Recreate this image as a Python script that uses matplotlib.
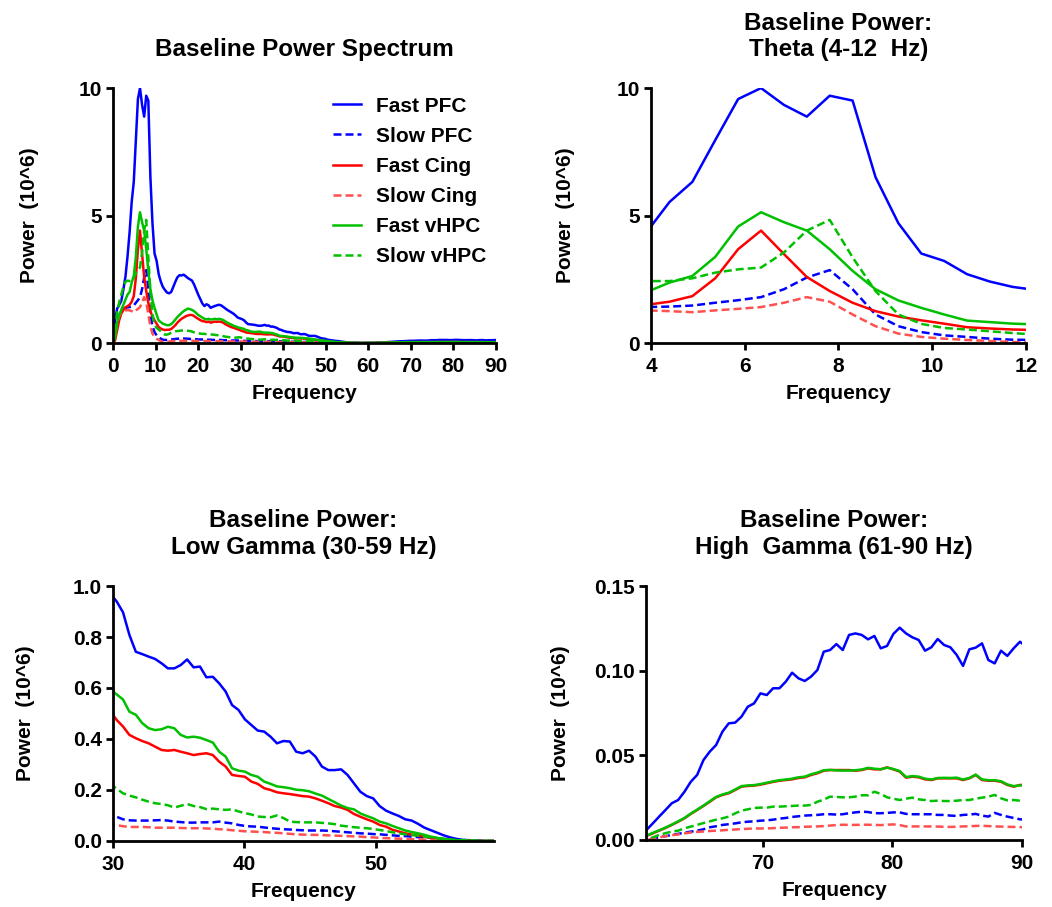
import numpy as np
import matplotlib
matplotlib.use("Agg")
import matplotlib.pyplot as plt
from matplotlib.ticker import FormatStrFormatter

plt.rcParams['font.family'] = ['Liberation Sans', 'DejaVu Sans']
plt.rcParams['font.weight'] = 'bold'

# FFT bin width (Hz); spectra below are one value per bin, from 0 Hz up to ~90 Hz
BIN_HZ = 0.48828

# Power (10^6) per bin
fast_pfc = [
    0.0, 0.9, 1.35, 1.5, 1.65, 2.1, 2.6, 3.4, 4.35, 5.53,
    6.32, 7.96, 9.57, 10.0, 9.34, 8.88, 9.70, 9.51, 6.51, 4.70,
    3.51, 3.22, 2.70, 2.41, 2.20, 2.08, 1.98, 1.95, 2.0, 2.2,
    2.4, 2.58, 2.66, 2.65, 2.68, 2.62, 2.55, 2.5, 2.45, 2.3,
    2.1, 1.9, 1.72, 1.55, 1.45, 1.52, 1.48, 1.38, 1.42, 1.45,
    1.48, 1.5, 1.48, 1.42, 1.36, 1.3, 1.25, 1.2, 1.15, 1.08,
    1.0, 0.97, 0.94, 0.897, 0.808, 0.742, 0.733, 0.723, 0.714, 0.697,
    0.677, 0.677, 0.69, 0.712, 0.681, 0.684, 0.642, 0.644, 0.618, 0.586,
    0.533, 0.514, 0.477, 0.455, 0.433, 0.429, 0.409, 0.383, 0.392, 0.39,
    0.35, 0.344, 0.354, 0.331, 0.292, 0.278, 0.278, 0.281, 0.259, 0.226,
    0.193, 0.176, 0.167, 0.137, 0.119, 0.108, 0.098, 0.085, 0.08, 0.067,
    0.052, 0.042, 0.032, 0.022, 0.014, 0.008, 0.004, 0.002, 0.001, 0.0,
    0.0, 0.0, 0.0, 0.001, 0.003, 0.0059, 0.0098, 0.0138, 0.0177, 0.0217,
    0.0236, 0.0285, 0.0344, 0.0384, 0.0472, 0.0522, 0.0561, 0.064, 0.0689, 0.0693,
    0.0728, 0.0787, 0.0807, 0.0866, 0.0856, 0.0896, 0.0896, 0.0935, 0.0988, 0.0955,
    0.0939, 0.0965, 0.1004, 0.1112, 0.1122, 0.1157, 0.1122, 0.1211, 0.122, 0.1211,
    0.1185, 0.1205, 0.1132, 0.1146, 0.1217, 0.1254, 0.122, 0.1197, 0.1181, 0.1118,
    0.1138, 0.1187, 0.1152, 0.1138, 0.1093, 0.1028, 0.1126, 0.1136, 0.1161, 0.1063,
    0.1043, 0.1118, 0.1087, 0.1132, 0.1171, 0.114,
]
slow_pfc = [
    0.0, 0.3, 0.8, 1.1, 1.25, 1.33, 1.38, 1.4, 1.41, 1.43,
    1.47, 1.58, 1.68, 1.80, 2.11, 2.57, 2.86, 2.11, 1.12, 0.66,
    0.43, 0.30, 0.24, 0.17, 0.13, 0.12, 0.12, 0.13, 0.14, 0.15,
    0.16, 0.17, 0.17, 0.18, 0.18, 0.17, 0.17, 0.16, 0.16, 0.15,
    0.15, 0.14, 0.14, 0.14, 0.13, 0.13, 0.13, 0.13, 0.12, 0.12,
    0.12, 0.12, 0.12, 0.11, 0.11, 0.11, 0.11, 0.1, 0.1, 0.1,
    0.1, 0.1, 0.095, 0.085, 0.081, 0.08, 0.08, 0.08, 0.081, 0.082,
    0.08, 0.076, 0.074, 0.072, 0.072, 0.073, 0.073, 0.073, 0.076, 0.072,
    0.069, 0.063, 0.059, 0.057, 0.056, 0.053, 0.05, 0.048, 0.046, 0.045,
    0.043, 0.042, 0.041, 0.041, 0.041, 0.04, 0.038, 0.036, 0.034, 0.032,
    0.03, 0.029, 0.027, 0.026, 0.024, 0.022, 0.02, 0.019, 0.017, 0.015,
    0.014, 0.012, 0.01, 0.008, 0.007, 0.005, 0.004, 0.003, 0.002, 0.001,
    0.0, 0.0, 0.0, 0.0, 0.0, 0.0004, 0.0008, 0.0016, 0.0022, 0.003,
    0.0036, 0.0043, 0.0049, 0.0055, 0.0063, 0.0075, 0.0081, 0.0089, 0.0093, 0.0098,
    0.0104, 0.0108, 0.011, 0.0114, 0.0116, 0.012, 0.0126, 0.013, 0.0136, 0.014,
    0.0144, 0.0146, 0.0148, 0.0152, 0.0152, 0.015, 0.0152, 0.0158, 0.0163, 0.0167,
    0.0165, 0.0158, 0.0158, 0.016, 0.0163, 0.0163, 0.0154, 0.0152, 0.0152, 0.0152,
    0.0152, 0.0148, 0.0148, 0.0144, 0.0142, 0.0148, 0.015, 0.0154, 0.0144, 0.0138,
    0.016, 0.0148, 0.0138, 0.013, 0.0122, 0.012,
]
fast_cing = [
    0.0, 0.1, 0.5, 0.9, 1.15, 1.3, 1.4, 1.45, 1.5, 1.62,
    1.84, 2.54, 3.68, 4.41, 3.49, 2.59, 2.04, 1.58, 1.25, 1.04,
    0.89, 0.76, 0.62, 0.57, 0.53, 0.51, 0.52, 0.52, 0.55, 0.62,
    0.7, 0.8, 0.88, 0.95, 1.0, 1.05, 1.08, 1.1, 1.1, 1.06,
    1.0, 0.95, 0.9, 0.86, 0.85, 0.82, 0.84, 0.8, 0.82, 0.84,
    0.83, 0.84, 0.83, 0.8, 0.74, 0.7, 0.66, 0.62, 0.6, 0.57,
    0.54, 0.51, 0.475, 0.449, 0.416, 0.403, 0.392, 0.383, 0.37, 0.357,
    0.354, 0.357, 0.35, 0.344, 0.337, 0.341, 0.344, 0.337, 0.311, 0.292,
    0.259, 0.255, 0.252, 0.233, 0.224, 0.207, 0.2, 0.191, 0.187, 0.184,
    0.18, 0.176, 0.174, 0.167, 0.158, 0.148, 0.137, 0.131, 0.122, 0.106,
    0.095, 0.085, 0.076, 0.063, 0.056, 0.044, 0.037, 0.03, 0.025, 0.021,
    0.017, 0.012, 0.008, 0.005, 0.003, 0.002, 0.001, 0.0, 0.0, 0.0,
    0.0, 0.0, 0.0, 0.0, 0.001, 0.0024, 0.0039, 0.0055, 0.0071, 0.0089,
    0.0108, 0.0128, 0.0154, 0.0177, 0.0201, 0.0226, 0.0252, 0.0266, 0.0276, 0.0295,
    0.0315, 0.0319, 0.0321, 0.0327, 0.0335, 0.0343, 0.035, 0.0354, 0.0358, 0.0366,
    0.037, 0.0384, 0.0394, 0.0409, 0.0413, 0.0413, 0.0413, 0.0413, 0.0409, 0.0413,
    0.0423, 0.0417, 0.0417, 0.0429, 0.0417, 0.0404, 0.0368, 0.0374, 0.037, 0.0358,
    0.0354, 0.0364, 0.0364, 0.0364, 0.0364, 0.0354, 0.0364, 0.0384, 0.0354, 0.035,
    0.035, 0.0344, 0.0325, 0.0315, 0.0325, 0.0325,
]
slow_cing = [
    0.0, 0.3, 0.8, 1.05, 1.2, 1.25, 1.28, 1.29, 1.28, 1.25,
    1.21, 1.28, 1.34, 1.41, 1.58, 1.80, 1.62, 1.12, 0.66, 0.37,
    0.24, 0.17, 0.12, 0.08, 0.04, 0.02, 0.04, 0.06, 0.07, 0.08,
    0.085, 0.09, 0.09, 0.09, 0.09, 0.09, 0.088, 0.086, 0.085, 0.083,
    0.082, 0.08, 0.079, 0.078, 0.077, 0.076, 0.075, 0.074, 0.073, 0.072,
    0.071, 0.07, 0.07, 0.069, 0.068, 0.068, 0.067, 0.067, 0.066, 0.066,
    0.065, 0.065, 0.062, 0.058, 0.055, 0.055, 0.055, 0.054, 0.052, 0.052,
    0.052, 0.052, 0.051, 0.05, 0.05, 0.05, 0.049, 0.048, 0.046, 0.045,
    0.042, 0.04, 0.038, 0.037, 0.036, 0.035, 0.033, 0.032, 0.03, 0.028,
    0.026, 0.025, 0.024, 0.024, 0.023, 0.022, 0.021, 0.02, 0.019, 0.018,
    0.017, 0.015, 0.014, 0.012, 0.011, 0.01, 0.009, 0.008, 0.007, 0.006,
    0.005, 0.004, 0.003, 0.002, 0.002, 0.001, 0.001, 0.0, 0.0, 0.0,
    0.0, 0.0, 0.0, 0.0, 0.0, 0.0, 0.0008, 0.0016, 0.0022, 0.0028,
    0.0033, 0.0039, 0.0044, 0.0048, 0.005, 0.0053, 0.0055, 0.0057, 0.006, 0.0062,
    0.0064, 0.0066, 0.0068, 0.0068, 0.0068, 0.007, 0.0072, 0.0073, 0.0075, 0.0076,
    0.0078, 0.0079, 0.008, 0.0082, 0.0085, 0.0088, 0.009, 0.0089, 0.0089, 0.009,
    0.009, 0.0089, 0.0088, 0.009, 0.0092, 0.0088, 0.008, 0.008, 0.008, 0.008,
    0.008, 0.0079, 0.0078, 0.0077, 0.0078, 0.008, 0.0081, 0.0083, 0.0084, 0.0082,
    0.008, 0.0079, 0.0078, 0.0077, 0.0076, 0.0075,
]
fast_vhpc = [
    0.0, 0.2, 0.8, 1.1, 1.3, 1.5, 1.7, 1.9, 2.0, 2.37,
    2.63, 3.38, 4.57, 5.13, 4.74, 4.41, 3.68, 2.83, 2.11, 1.67,
    1.38, 1.12, 0.88, 0.82, 0.76, 0.73, 0.7, 0.7, 0.74, 0.82,
    0.92, 1.02, 1.1, 1.18, 1.25, 1.3, 1.35, 1.33, 1.3, 1.25,
    1.18, 1.1, 1.05, 1.0, 0.95, 0.93, 0.95, 0.92, 0.93, 0.95,
    0.93, 0.95, 0.93, 0.9, 0.85, 0.8, 0.76, 0.72, 0.68, 0.65,
    0.62, 0.595, 0.575, 0.555, 0.507, 0.495, 0.462, 0.442, 0.435, 0.438,
    0.448, 0.442, 0.416, 0.406, 0.409, 0.405, 0.396, 0.386, 0.35, 0.331,
    0.285, 0.276, 0.272, 0.259, 0.252, 0.233, 0.224, 0.214, 0.211, 0.207,
    0.201, 0.199, 0.195, 0.186, 0.178, 0.165, 0.152, 0.139, 0.129, 0.124,
    0.108, 0.098, 0.089, 0.076, 0.069, 0.059, 0.05, 0.041, 0.035, 0.03,
    0.024, 0.017, 0.012, 0.008, 0.005, 0.003, 0.002, 0.001, 0.0, 0.0,
    0.0, 0.0, 0.0, 0.0, 0.001, 0.0026, 0.0042, 0.0057, 0.0073, 0.0091,
    0.011, 0.013, 0.0156, 0.0179, 0.0203, 0.0229, 0.0254, 0.0269, 0.0279, 0.0298,
    0.0318, 0.0322, 0.0324, 0.033, 0.0338, 0.0346, 0.0353, 0.0357, 0.0362, 0.037,
    0.0374, 0.0388, 0.0398, 0.0412, 0.0414, 0.0411, 0.041, 0.041, 0.0412, 0.0416,
    0.0426, 0.0421, 0.0418, 0.0427, 0.0419, 0.0407, 0.0372, 0.0377, 0.0374, 0.0362,
    0.0357, 0.0366, 0.0367, 0.0366, 0.0368, 0.0357, 0.0366, 0.0386, 0.0358, 0.0353,
    0.0353, 0.0347, 0.0328, 0.0318, 0.0322, 0.0323,
]
slow_vhpc = [
    0.0, 0.5, 1.2, 1.6, 1.9, 2.2, 2.4, 2.45, 2.43, 2.43,
    2.54, 2.76, 2.89, 2.96, 3.55, 4.41, 4.83, 3.36, 2.04, 1.12,
    0.75, 0.59, 0.53, 0.46, 0.39, 0.33, 0.33, 0.36, 0.4, 0.43,
    0.46, 0.47, 0.48, 0.49, 0.49, 0.49, 0.48, 0.47, 0.45, 0.42,
    0.4, 0.38, 0.37, 0.36, 0.36, 0.35, 0.35, 0.34, 0.33, 0.32,
    0.31, 0.3, 0.29, 0.27, 0.25, 0.24, 0.23, 0.22, 0.21, 0.21,
    0.22, 0.225, 0.205, 0.187, 0.178, 0.171, 0.162, 0.154, 0.148, 0.145,
    0.14, 0.131, 0.138, 0.145, 0.137, 0.133, 0.125, 0.127, 0.124, 0.122,
    0.124, 0.116, 0.109, 0.104, 0.096, 0.094, 0.093, 0.1, 0.09, 0.076,
    0.074, 0.073, 0.073, 0.073, 0.071, 0.069, 0.066, 0.06, 0.057, 0.054,
    0.052, 0.05, 0.047, 0.043, 0.039, 0.034, 0.03, 0.026, 0.023, 0.021,
    0.017, 0.014, 0.011, 0.008, 0.006, 0.004, 0.003, 0.002, 0.001, 0.0,
    0.0, 0.0, 0.0, 0.0, 0.0, 0.001, 0.0015, 0.003, 0.004, 0.005,
    0.0055, 0.0069, 0.0079, 0.0089, 0.01, 0.011, 0.012, 0.0128, 0.0138, 0.0157,
    0.0173, 0.0181, 0.0189, 0.0191, 0.0191, 0.0197, 0.0197, 0.0199, 0.0201, 0.0203,
    0.0203, 0.0207, 0.0226, 0.0238, 0.0256, 0.0254, 0.0252, 0.0252, 0.0256, 0.0264,
    0.0264, 0.0285, 0.0272, 0.0252, 0.0244, 0.0236, 0.0244, 0.025, 0.024, 0.0236,
    0.023, 0.0232, 0.023, 0.023, 0.0232, 0.0236, 0.0236, 0.0244, 0.025, 0.0256,
    0.0266, 0.0246, 0.0234, 0.0236, 0.0232, 0.023,
]

series_names = ['Fast PFC', 'Slow PFC', 'Fast Cing', 'Slow Cing', 'Fast vHPC', 'Slow vHPC']
series_vals = [fast_pfc, slow_pfc, fast_cing, slow_cing, fast_vhpc, slow_vhpc]
colors = ['#0000ff', '#0000ff', '#ff0000', '#ff5050', '#00c000', '#00c000']
dashed = [False, True, False, True, False, True]

for v in series_vals:
    assert len(v) == 186
freq = BIN_HZ * np.arange(186)

panels = [
    # title, axes rect (fig fraction), xlim, xticks, ylim, yticks, y format, ylabel x
    ('Baseline Power Spectrum', [0.1074, 0.6218, 0.3641, 0.2811],
     (0, 90), np.arange(0, 91, 10), (0, 10), [0, 5, 10], '%d', -0.193),
    ('Baseline Power:\nTheta (4-12  Hz)', [0.6188, 0.6218, 0.3565, 0.2811],
     (4, 12), [4, 6, 8, 10, 12], (0, 10), [0, 5, 10], '%d', -0.203),
    ('Baseline Power:\nLow Gamma (30-59 Hz)', [0.1074, 0.0728, 0.3622, 0.2811],
     (30, 59), [30, 40, 50], (0, 1.0), [0, 0.2, 0.4, 0.6, 0.8, 1.0], '%.1f', -0.205),
    ('Baseline Power:\nHigh  Gamma (61-90 Hz)', [0.6141, 0.0739, 0.3574, 0.2800],
     (61, 90), [70, 80, 90], (0, 0.15), [0, 0.05, 0.10, 0.15], '%.2f', -0.202),
]

fig = plt.figure(figsize=(10.52, 9.07), dpi=100)

for i, (title, rect, xl, xt, yl, yt, yfmt, ylx) in enumerate(panels):
    ax = fig.add_axes(rect)
    for name, vals, c, d in zip(series_names, series_vals, colors, dashed):
        ls = (0, (3.2, 1.6)) if d else '-'
        ax.plot(freq, vals, color=c, lw=1.8, linestyle=ls, label=name)
    ax.set_xlim(*xl)
    ax.set_ylim(*yl)
    ax.set_xticks(xt)
    ax.set_yticks(yt)
    ax.yaxis.set_major_formatter(FormatStrFormatter(yfmt))
    for s in ['top', 'right']:
        ax.spines[s].set_visible(False)
    for s in ['left', 'bottom']:
        ax.spines[s].set_linewidth(2.0)
    ax.tick_params(width=2.0, length=5, labelsize=15, pad=3)
    ax.tick_params(axis='x', pad=5)
    ax.set_title(title, fontsize=17.5, fontweight='bold', pad=23, linespacing=1.2)
    ax.set_xlabel('Frequency', fontsize=15, fontweight='bold')
    ax.set_ylabel('Power  (10^6)', fontsize=15, fontweight='bold')
    ax.xaxis.set_label_coords(0.5, -0.162)
    ax.yaxis.set_label_coords(ylx, 0.5)
    if i == 0:
        ax.legend(loc='upper left', bbox_to_anchor=(0.574, 0.966), frameon=False,
                  fontsize=15, handlelength=1.35, handletextpad=0.72,
                  labelspacing=0.53, borderpad=0, borderaxespad=0)

fig.savefig('out.png', dpi=100)
